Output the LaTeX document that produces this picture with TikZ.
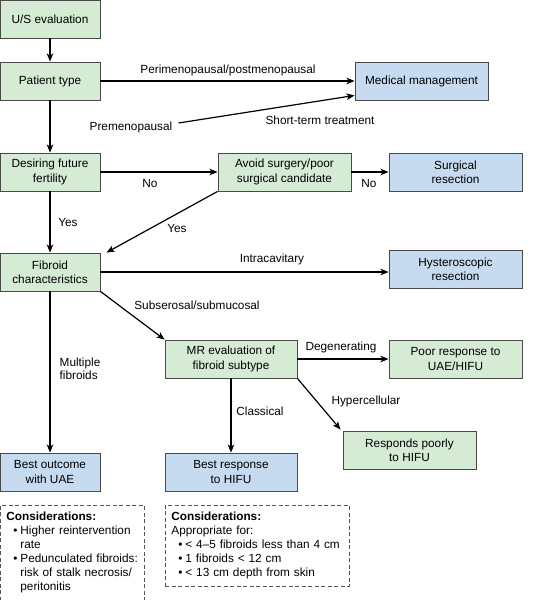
\documentclass[tikz,border=0pt]{standalone}
\usepackage{fontspec}
\setmainfont{Liberation Sans}
\usetikzlibrary{arrows.meta,calc}
\definecolor{gfill}{HTML}{D5EBD3}
\definecolor{bfill}{HTML}{C6DAF0}
\definecolor{bordc}{HTML}{4A4A4A}
\definecolor{dashc}{HTML}{555555}
\tikzset{
  box/.style={draw=bordc, line width=0.9pt, minimum width=100pt, minimum height=38pt,
    align=center, inner sep=2pt, font=\fontsize{11.8}{14.3}\selectfont},
  gbox/.style={box, fill=gfill},
  bbox/.style={box, fill=bfill},
  wide/.style={minimum width=133pt},
  arr/.style={line width=1.2pt, -{Stealth[length=8pt,width=6.5pt,inset=2pt]}},
  lbl/.style={font=\fontsize{11.8}{14.3}\selectfont, inner sep=1pt},
  consbox/.style={draw=dashc, line width=0.8pt, dash pattern=on 4pt off 2.5pt,
    align=left, anchor=north west, inner xsep=6pt, inner ysep=0pt,
    font=\fontsize{11.8}{14}\selectfont}
}
\begin{document}
\begin{tikzpicture}[x=1pt,y=-1pt]
\useasboundingbox (0,0) rectangle (547,600);
% boxes
\node[gbox] (us) at (50,19) {U/S evaluation};
\node[gbox] (pt) at (50,81) {Patient type};
\node[bbox,wide] (med) at (421.5,81) {Medical management};
\node[gbox] (des) at (50,172) {Desiring future\\fertility};
\node[gbox,wide] (avoid) at (284.5,172) {Avoid surgery/poor\\surgical candidate};
\node[bbox,wide] (surg) at (455.5,172) {Surgical\\resection};
\node[gbox] (fib) at (50,272) {Fibroid\\characteristics};
\node[bbox,wide] (hyst) at (455.5,269) {Hysteroscopic\\resection};
\node[gbox,minimum width=132pt] (mr) at (231,359) {MR evaluation of\\fibroid subtype};
\node[gbox,wide] (poor) at (455.5,359) {Poor response to\\UAE/HIFU};
\node[bbox] (uae) at (50,472) {Best outcome\\with UAE};
\node[bbox,minimum width=132pt] (hifu) at (231,472) {Best response\\to HIFU};
\node[gbox,wide] (resp) at (409.5,450) {Responds poorly\\to HIFU};
% considerations
\node[consbox, text width=132pt, minimum height=95pt] (c1) at (0,505)
{\textbf{Considerations:}\\
\hspace*{7pt}\makebox[7pt][l]{\textbullet}Higher reintervention\\
\hspace*{14pt}rate\\
\hspace*{7pt}\makebox[7pt][l]{\textbullet}Pedunculated fibroids:\\
\hspace*{14pt}risk of stalk necrosis/\\
\hspace*{14pt}peritonitis};
\node[consbox, text width=172pt, minimum height=81pt] (c2) at (165,505)
{\textbf{Considerations:}\\
Appropriate for:\\
\hspace*{7pt}\makebox[7pt][l]{\textbullet}<~4–5 fibroids less than 4 cm\\
\hspace*{7pt}\makebox[7pt][l]{\textbullet}1 fibroids <~12 cm\\
\hspace*{7pt}\makebox[7pt][l]{\textbullet}<~13 cm depth from skin};
% labels
\node[lbl] (lperi) at (228,70) {Perimenopausal/postmenopausal};
\node[lbl] (prem) at (131,127) {Premenopausal};
\node[lbl] (lshort) at (320,120) {Short-term treatment};
\node[lbl] (lno1) at (150,183) {No};
\node[lbl] (lno2) at (369,183) {No};
\node[lbl] (lyes1) at (68,222) {Yes};
\node[lbl] (lyes2) at (177,228) {Yes};
\node[lbl] (lintra) at (272,259) {Intracavitary};
\node[lbl] (lsub) at (197,305) {Subserosal/submucosal};
\node[lbl,align=left,font=\fontsize{11.8}{13}\selectfont] (lmult) at (80,369) {Multiple\\fibroids};
\node[lbl] (ldeg) at (341,347) {Degenerating};
\node[lbl] (lclass) at (260,411) {Classical};
\node[lbl] (lhyper) at (366,401) {Hypercellular};
% connectors
\draw[arr] (us) -- (pt);
\draw[arr] (pt) -- (des);
\draw[arr] (pt) -- (med);
\draw[arr] ([xshift=5pt,yshift=4pt]prem.east) -- ([yshift=5pt]med.south west);
\draw[arr] (des) -- (avoid);
\draw[arr] (avoid) -- (surg);
\draw[arr] (des) -- (fib);
\draw[arr] (avoid.south west) -- ([xshift=6pt]fib.north east);
\draw[arr] (fib.east) -- (fib.east -| hyst.west);
\draw[arr] (fib.south east) -- (mr.north west);
\draw[arr] (fib) -- (uae);
\draw[arr] (mr) -- (poor);
\draw[arr] (mr) -- (hifu);
\draw[arr] (mr.south east) -- ([xshift=-2pt,yshift=1pt]resp.north west);
\end{tikzpicture}
\end{document}
